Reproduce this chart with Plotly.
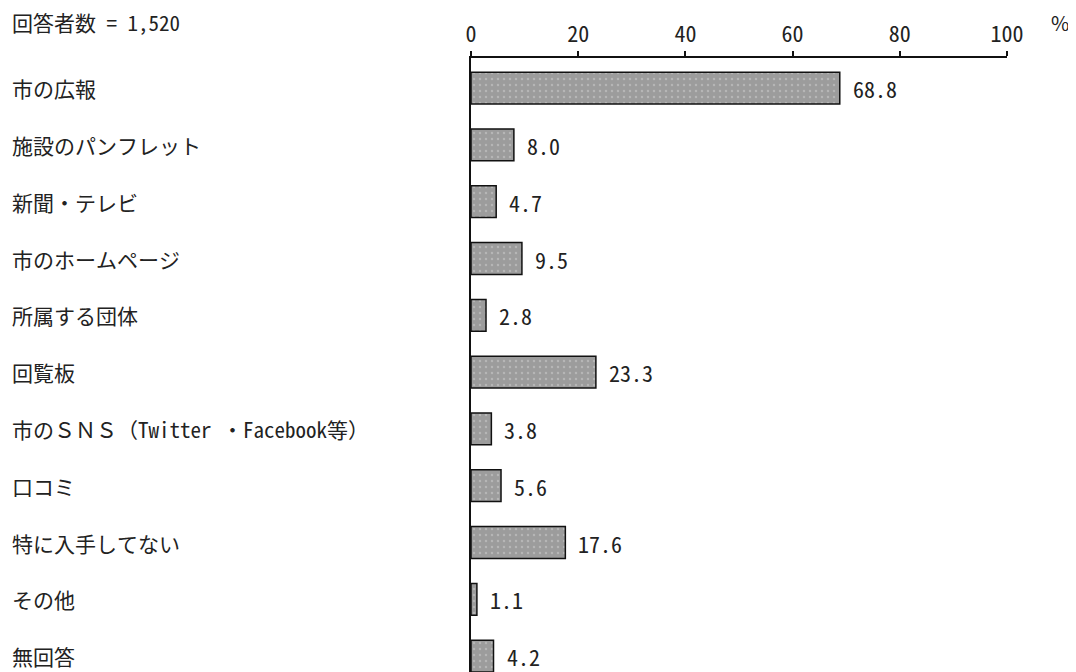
import plotly.graph_objects as go

categories = ["市の広報", "施設のパンフレット", "新聞・テレビ", "市のホームページ", "所属する団体",
              "回覧板", "市のＳＮＳ（Twitter ・Facebook等）", "口コミ", "特に入手してない", "その他", "無回答"]
values = [68.8, 8.0, 4.7, 9.5, 2.8, 23.3, 3.8, 5.6, 17.6, 1.1, 4.2]
x_ticks = [0, 20, 40, 60, 80, 100]
respondents = "回答者数 = 1,520"

jp_font = "Noto Sans Mono CJK JP, Noto Sans CJK JP"
fig = go.Figure()

fig.add_trace(go.Bar(
    x=values, y=categories, orientation="h", width=0.56,
    marker=dict(
        color="#9c9c9c",
        line=dict(color="#111", width=1.5),
        pattern=dict(shape=".", bgcolor="#9c9c9c", fgcolor="#d0d0d0", size=6, solidity=0.12),
    ),
    hoverinfo="x+y",
))

annotations = []
for cat, v in zip(categories, values):
    # category label on the left edge
    annotations.append(dict(x=0, y=cat, xref="paper", yref="y", text=cat, showarrow=False,
                            xanchor="left", xshift=-461, font=dict(size=21, color="#222", family=jp_font)))
    # value label to the right of the bar
    annotations.append(dict(x=v, y=cat, xref="x", yref="y", text=f"{v:.1f}",
                            showarrow=False, xanchor="left", xshift=11,
                            font=dict(size=22, color="#222", family=jp_font)))

annotations.append(dict(x=0, y=1, xref="paper", yref="paper", text=respondents, showarrow=False,
                        xanchor="left", yanchor="middle", xshift=-461, yshift=36,
                        font=dict(size=21, color="#222", family=jp_font)))
annotations.append(dict(x=1, y=1, xref="paper", yref="paper", text="%", showarrow=False,
                        xanchor="left", yanchor="middle", xshift=42, yshift=36,
                        font=dict(size=20, color="#222", family="Noto Sans CJK JP")))

# page body adds an 8px offset, so the figure is 8px smaller than the window
fig.update_layout(
    width=1068, height=664,
    margin=dict(l=463, r=69, t=50, b=0),
    plot_bgcolor="white", paper_bgcolor="white",
    showlegend=False,
    annotations=annotations,
    xaxis=dict(
        side="top", range=[0, 100], tickvals=x_ticks, showgrid=False, zeroline=False,
        showline=True, linecolor="#111", linewidth=1.5,
        ticks="outside", ticklen=5, tickcolor="#111", tickwidth=1.5,
        tickfont=dict(size=22, color="#222", family=jp_font),
    ),
    yaxis=dict(
        categoryorder="array", categoryarray=categories,
        range=[10.28, -0.53], showticklabels=False, showgrid=False, zeroline=False,
        showline=True, linecolor="#111", linewidth=1.5, ticks="",
    ),
)

fig.write_html("out.html")
